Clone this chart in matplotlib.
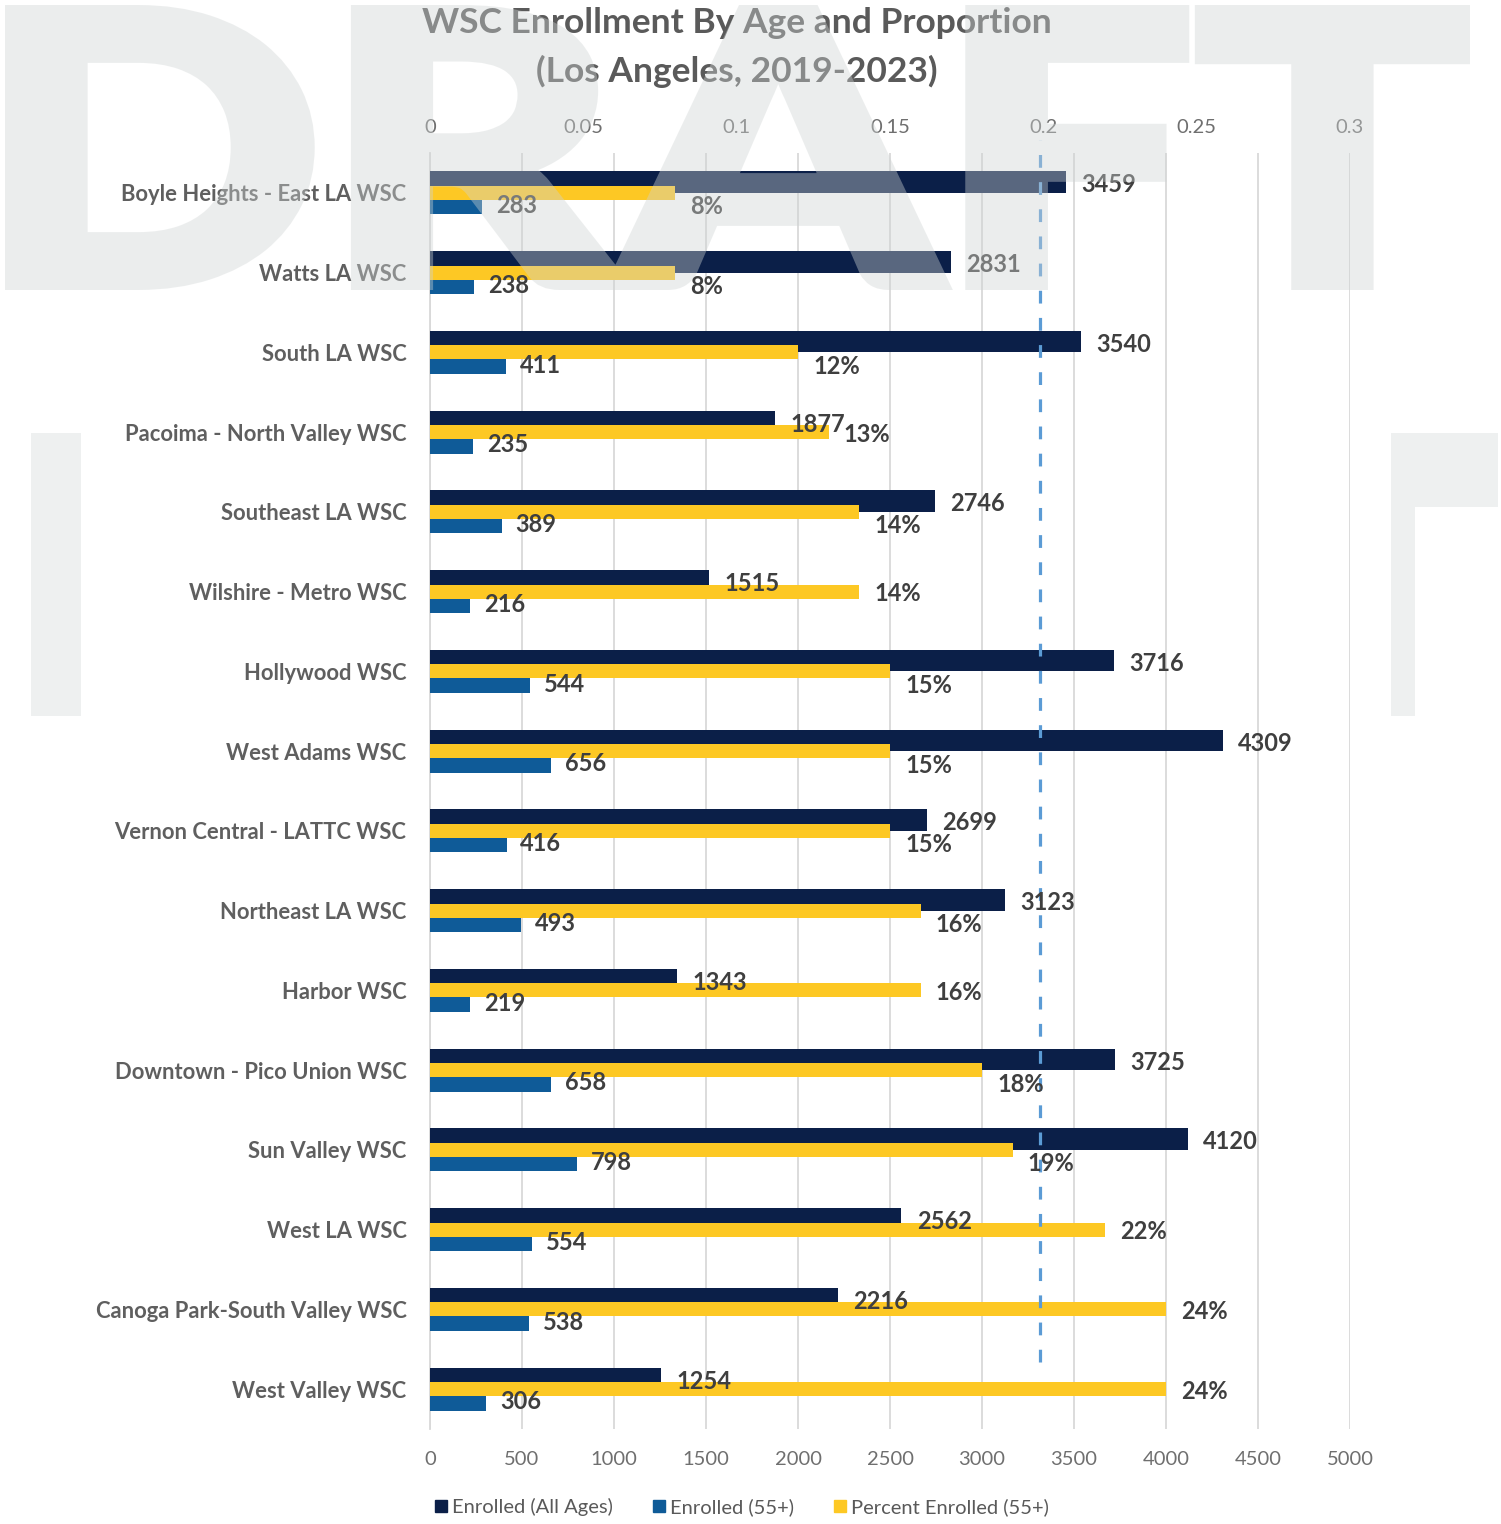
import matplotlib
matplotlib.use("Agg")
import matplotlib.pyplot as plt
import numpy as np
from matplotlib.textpath import TextPath
from matplotlib.patches import PathPatch, Rectangle
from matplotlib.font_manager import FontProperties
from matplotlib.transforms import Affine2D
from matplotlib.lines import Line2D

# ---------------- data ----------------
centers = [
    "Boyle Heights - East LA WSC", "Watts LA WSC", "South LA WSC",
    "Pacoima - North Valley WSC", "Southeast LA WSC", "Wilshire - Metro WSC",
    "Hollywood WSC", "West Adams WSC", "Vernon Central - LATTC WSC",
    "Northeast LA WSC", "Harbor WSC", "Downtown - Pico Union WSC",
    "Sun Valley WSC", "West LA WSC", "Canoga Park-South Valley WSC",
    "West Valley WSC",
]
enrolled_all = [3459, 2831, 3540, 1877, 2746, 1515, 3716, 4309, 2699, 3123,
                1343, 3725, 4120, 2562, 2216, 1254]
enrolled_55 = [283, 238, 411, 235, 389, 216, 544, 656, 416, 493,
               219, 658, 798, 554, 538, 306]
pct_55 = [0.08, 0.08, 0.12, 0.13, 0.14, 0.14, 0.15, 0.15, 0.15, 0.16,
          0.16, 0.18, 0.19, 0.22, 0.24, 0.24]
pct_labels = ["8%", "8%", "12%", "13%", "14%", "14%", "15%", "15%", "15%",
              "16%", "16%", "18%", "19%", "22%", "24%", "24%"]
reference_pct = 0.199
bottom_ticks = [0, 500, 1000, 1500, 2000, 2500, 3000, 3500, 4000, 4500, 5000]
top_ticks = [0, 0.05, 0.10, 0.15, 0.20, 0.25, 0.30]
top_tick_labels = ["0", "0.05", "0.1", "0.15", "0.2", "0.25", "0.3"]
title_lines = ["WSC Enrollment By Age and Proportion", "(Los Angeles, 2019-2023)"]
series_names = ["Enrolled (All Ages)", "Enrolled (55+)", "Percent Enrolled (55+)"]

# ---------------- style ----------------
NAVY = "#0b1f48"
BLUE = "#0f5b98"
YELLOW = "#fdc824"
GRID = "#d9d9d9"
CAT_COL = "#5f5f5f"
LAB_COL = "#3f3f3f"
TICK_COL = "#6f6f6f"
FONT = ["Lato", "DejaVu Sans"]
plt.rcParams["font.family"] = FONT

W, H = 1501, 1524
fig = plt.figure(figsize=(W / 100, H / 100), dpi=100)
fig.patch.set_facecolor("white")

ax = fig.add_axes([430 / W, 1 - 1429 / H, 920 / W, 1276 / H])
ax2 = ax.twiny()

n = len(centers)
ys = list(range(n))
bh = 0.27
ax.barh([y - bh / 2 for y in ys], enrolled_all, height=bh, color=NAVY, zorder=3)
ax.barh([y + bh / 2 for y in ys], enrolled_55, height=bh, color=BLUE, zorder=3)
ax2.barh(ys, pct_55, height=0.175, color=YELLOW, zorder=3)

ax.set_xlim(0, 5000)
ax2.set_xlim(0, 0.3)
ax.set_ylim(n - 0.5, -0.5)

ax.set_xticks(bottom_ticks)
ax.set_xticklabels([str(t) for t in bottom_ticks])
ax2.set_xticks(top_ticks)
ax2.set_xticklabels(top_tick_labels)
ax.set_yticks(ys)
ax.set_yticklabels(centers, fontsize=15.8, fontweight="bold", color=CAT_COL)

ax.tick_params(axis="y", length=0, pad=17)
ax.tick_params(axis="x", length=0, pad=16, labelsize=14.5, labelcolor=TICK_COL)
ax2.tick_params(axis="x", length=0, pad=12.5, labelsize=14.5, labelcolor=TICK_COL)

ax.grid(axis="x", color=GRID, linewidth=1.3, zorder=0)
ax.set_axisbelow(True)
for s in ["top", "right", "bottom"]:
    ax.spines[s].set_visible(False)
ax.spines["left"].set_color(GRID)
ax.spines["left"].set_linewidth(1.3)
for s in ax2.spines.values():
    s.set_visible(False)

# reference dashed line
ax2.axvline(reference_pct, ymin=0.0525, ymax=1.01, color="#5b9bd5",
            linewidth=2.3, linestyle=(0, (4, 4.5)), zorder=4, clip_on=False)

# data labels (drawn on ax2 so they sit above yellow bars)
for i in ys:
    ax2.annotate(str(enrolled_all[i]), xy=(enrolled_all[i], i - bh / 2),
                 xycoords=ax.transData, xytext=(11, -2), textcoords="offset points",
                 ha="left", va="center", fontsize=17, fontweight="bold",
                 color=LAB_COL, zorder=6)
    ax2.annotate(str(enrolled_55[i]), xy=(enrolled_55[i], i + bh / 2),
                 xycoords=ax.transData, xytext=(10, -1.5), textcoords="offset points",
                 ha="left", va="center", fontsize=17, fontweight="bold",
                 color=LAB_COL, zorder=6)
    navy_end = enrolled_all[i] / 5000
    yel_end = pct_55[i] / 0.3
    dy = -10 if navy_end > yel_end else -1.5
    ax2.annotate(pct_labels[i], xy=(pct_55[i], i), xycoords="data",
                 xytext=(11, dy), textcoords="offset points",
                 ha="left", va="center", fontsize=17, fontweight="bold",
                 color=LAB_COL, zorder=6)

# title
fig.text(737 / W, 1 - 23 / H, title_lines[0], ha="center", va="center",
         fontsize=25.5, fontweight="bold", color="#5a5a5a")
fig.text(737 / W, 1 - 71 / H, title_lines[1], ha="center", va="center",
         fontsize=25.5, fontweight="bold", color="#5a5a5a")

# legend
handles = [Line2D([], [], marker="s", linestyle="none", markersize=8, color=c)
           for c in (NAVY, BLUE, YELLOW)]
fig.legend(handles, series_names, loc="center", bbox_to_anchor=(742 / W, 1 - 1507 / H),
           ncol=3, frameon=False, fontsize=14.5, handlelength=0.6, handletextpad=0.25,
           columnspacing=2.0, labelcolor="#595959")

# ---------------- watermark ----------------
# render an opaque, heavy "DRAFT" off-screen, then overlay it translucently
fp = FontProperties(family=["Lato", "DejaVu Sans"], weight="black")
tp = TextPath((0, 0), "DRAFT", size=100, prop=fp)
bb = tp.get_extents()
stroke = 14  # px of extra weight on each side
x0, x1, y_top, y_bot = 5 + stroke / 2, 1470 - stroke / 2, 5 + stroke / 2, 290 - stroke / 2
wfig = plt.figure(figsize=(W / 100, H / 100), dpi=100)
wfig.patch.set_alpha(0)
aff = (Affine2D().translate(-bb.x0, -bb.y0)
       .scale((x1 - x0) / W / bb.width, (y_bot - y_top) / H / bb.height)
       .translate(x0 / W, 1 - y_bot / H))
wfig.add_artist(PathPatch(tp, transform=aff + wfig.transFigure, facecolor="#cfd4d4",
                          edgecolor="#cfd4d4", linewidth=stroke * 0.72,
                          joinstyle="miter"))
wfig.canvas.draw()
buf = np.asarray(wfig.canvas.buffer_rgba()).astype(float) / 255.0
plt.close(wfig)
img = buf.copy()
img[..., 3] = img[..., 3] * 0.4
fig.figimage(img, xo=0, yo=0, origin="upper", zorder=20)

# second-row watermark fragments (behind chart)
def px_rect(xa, ya, xb, yb):
    return Rectangle((xa / W, 1 - yb / H), (xb - xa) / W, (yb - ya) / H,
                     transform=fig.transFigure, facecolor="#eef0f0",
                     edgecolor="none", zorder=-5)

fig.add_artist(px_rect(31, 433, 81, 716))
fig.add_artist(px_rect(1391, 433, 1498, 507))
fig.add_artist(px_rect(1391, 507, 1415, 716))

fig.savefig("out.png", dpi=100, facecolor="white")
